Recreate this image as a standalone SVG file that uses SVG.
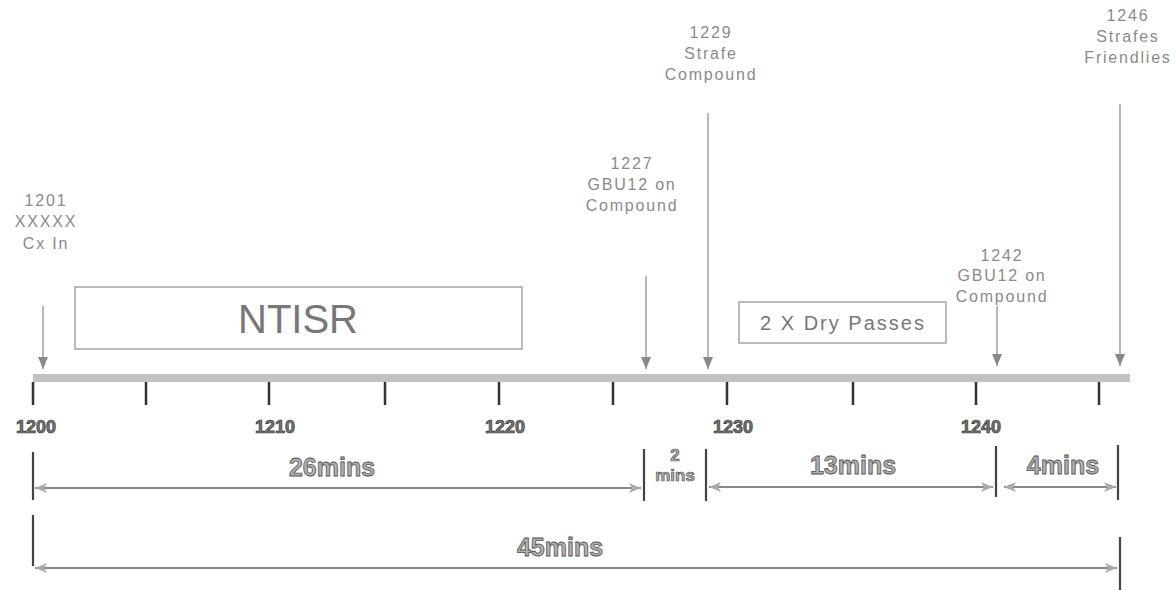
<svg xmlns="http://www.w3.org/2000/svg" width="1176" height="593" viewBox="0 0 1176 593">
<style>
.lbl{font-family:"Liberation Sans",Arial,sans-serif;font-size:16px;fill:#8a8a8a;letter-spacing:1.8px;text-anchor:middle}
.tick{stroke:#333;stroke-width:2.5}
.tl{font-family:"Liberation Sans",Arial,sans-serif;font-size:18px;font-weight:bold;fill:#777;stroke:#333;stroke-width:0.7;text-anchor:middle}
.dur{font-family:"Liberation Sans",Arial,sans-serif;font-size:25px;font-weight:bold;fill:#b0b0b0;stroke:#555;stroke-width:0.8;text-anchor:middle}
.durs{font-family:"Liberation Sans",Arial,sans-serif;font-size:17px;font-weight:bold;fill:#b0b0b0;stroke:#555;stroke-width:0.7;text-anchor:middle}
.ev{stroke:#888;stroke-width:1.2;fill:none}
.bar{stroke:#444;stroke-width:2.2}
.dl{stroke:#888;stroke-width:1.8;fill:none}
.box{fill:#fff;stroke:#aaa;stroke-width:1.6}
.boxt{font-family:"Liberation Sans",Arial,sans-serif;fill:#777;text-anchor:middle}
</style>
<defs>
<marker id="down" viewBox="0 0 12 10" refX="12" refY="5" markerWidth="12" markerHeight="10" markerUnits="userSpaceOnUse" orient="auto">
<path d="M0,0 L12,5 L0,10 Z" fill="#888"/>
</marker>
<marker id="ah" viewBox="0 0 12 10" refX="12" refY="5" markerWidth="12" markerHeight="10" markerUnits="userSpaceOnUse" orient="auto-start-reverse">
<path d="M0,0 L12,5 L0,10 L3,5 Z" fill="#aaa"/>
</marker>
</defs>
<rect width="1176" height="593" fill="#fff"/>

<g id="timeline">
<rect x="33" y="374" width="1097" height="8" fill="#c2c2c2"/>
<line class="tick" x1="33" y1="382" x2="33" y2="405"/>
<line class="tick" x1="146" y1="382" x2="146" y2="405"/>
<line class="tick" x1="269" y1="382" x2="269" y2="405"/>
<line class="tick" x1="385" y1="382" x2="385" y2="405"/>
<line class="tick" x1="499" y1="382" x2="499" y2="405"/>
<line class="tick" x1="613" y1="382" x2="613" y2="405"/>
<line class="tick" x1="727" y1="382" x2="727" y2="405"/>
<line class="tick" x1="853" y1="382" x2="853" y2="405"/>
<line class="tick" x1="976" y1="382" x2="976" y2="405"/>
<line class="tick" x1="1099" y1="382" x2="1099" y2="405"/>
<text class="tl" x="36" y="433">1200</text>
<text class="tl" x="275" y="433">1210</text>
<text class="tl" x="505" y="433">1220</text>
<text class="tl" x="733" y="433">1230</text>
<text class="tl" x="981" y="433">1240</text>
</g>

<g id="ntisr">
<rect class="box" x="75" y="287" width="447" height="62"/>
<text class="boxt" x="298" y="333" font-size="40">NTISR</text>
</g>

<g id="dry-passes">
<rect class="box" x="739" y="302" width="207" height="41"/>
<text class="boxt" x="843" y="330" font-size="20" letter-spacing="2">2 X Dry Passes</text>
</g>

<g id="ev1201">
<text class="lbl" x="46" y="206">1201</text>
<text class="lbl" x="46" y="227">XXXXX</text>
<text class="lbl" x="46" y="249">Cx In</text>
</g>
<g id="ev1227">
<text class="lbl" x="632" y="169">1227</text>
<text class="lbl" x="632" y="190">GBU12 on</text>
<text class="lbl" x="632" y="211">Compound</text>
</g>
<g id="ev1229">
<text class="lbl" x="711" y="38">1229</text>
<text class="lbl" x="711" y="59">Strafe</text>
<text class="lbl" x="711" y="80">Compound</text>
</g>
<g id="ev1242">
<text class="lbl" x="1002" y="261">1242</text>
<text class="lbl" x="1002" y="281">GBU12 on</text>
<text class="lbl" x="1002" y="302">Compound</text>
</g>
<g id="ev1246">
<text class="lbl" x="1128" y="21">1246</text>
<text class="lbl" x="1128" y="42">Strafes</text>
<text class="lbl" x="1128" y="63">Friendlies</text>
</g>

<g id="durations">
<text class="dur" x="332" y="476">26mins</text>
<text class="durs" x="675" y="461">2</text>
<text class="durs" x="675" y="481">mins</text>
<text class="dur" x="853" y="474">13mins</text>
<text class="dur" x="1063" y="474">4mins</text>
<text class="dur" x="560" y="556">45mins</text>
</g>

<g id="connectors">
<line class="ev" x1="43" y1="306" x2="43" y2="369" marker-end="url(#down)"/>
<line class="ev" x1="646" y1="276" x2="646" y2="369" marker-end="url(#down)"/>
<line class="ev" x1="708" y1="113" x2="708" y2="369" marker-end="url(#down)"/>
<line class="ev" x1="997" y1="306" x2="997" y2="366" marker-end="url(#down)"/>
<line class="ev" x1="1120" y1="104" x2="1120" y2="366" marker-end="url(#down)"/>

<line class="bar" x1="33" y1="452" x2="33" y2="500"/>
<line class="bar" x1="644" y1="449" x2="644" y2="501"/>
<line class="bar" x1="706" y1="449" x2="706" y2="501"/>
<line class="bar" x1="996" y1="446" x2="996" y2="497"/>
<line class="bar" x1="1118" y1="445" x2="1118" y2="500"/>
<line class="bar" x1="33" y1="515" x2="33" y2="566"/>
<line class="bar" x1="1120" y1="537" x2="1120" y2="590"/>

<line class="dl" x1="35" y1="488" x2="641" y2="488" marker-start="url(#ah)" marker-end="url(#ah)"/>
<line class="dl" x1="709" y1="487" x2="993" y2="487" marker-start="url(#ah)" marker-end="url(#ah)"/>
<line class="dl" x1="1004" y1="487" x2="1116" y2="487" marker-start="url(#ah)" marker-end="url(#ah)"/>
<line class="dl" x1="35" y1="568" x2="1117" y2="568" marker-start="url(#ah)" marker-end="url(#ah)"/>
</g>
</svg>
